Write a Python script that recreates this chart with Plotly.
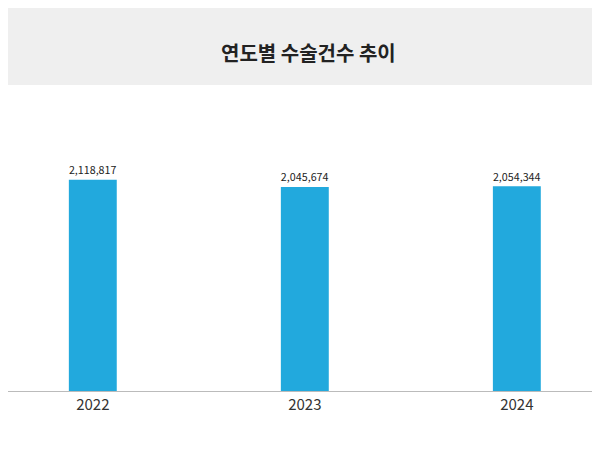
import plotly.graph_objects as go

years = ["2022", "2023", "2024"]
counts = [2118817, 2045674, 2054344]
labels = [f"{v:,}" for v in counts]

fig = go.Figure(go.Bar(
    x=[0, 1, 2], y=counts, width=0.226,
    marker=dict(color="#22A9DD", line=dict(width=0)),
    text=labels, textposition="outside", cliponaxis=False,
    textfont=dict(family="Noto Sans CJK KR", size=12, color="#222"),
))
fig.update_layout(
    width=600, height=450, margin=dict(l=0, r=0, t=85, b=67),
    paper_bgcolor="white", plot_bgcolor="white", showlegend=False,
    xaxis=dict(range=[-0.40, 2.43], tickvals=[0, 1, 2], ticktext=years,
               showgrid=False, showline=True, linecolor="#bbb", linewidth=1,
               tickfont=dict(family="Noto Sans CJK KR", size=15, color="#333"),
               ticks="", zeroline=False),
    yaxis=dict(range=[0, 2990000], visible=False),
    shapes=[dict(type="rect", xref="paper", yref="paper", x0=0, x1=1,
                 y0=1.0 + 8/298, y1=1.0 + 90/298, fillcolor="#EFEFEF",
                 line=dict(width=0), layer="below")],
    annotations=[dict(text="<b>연도별 수술건수 추이</b>", xref="paper", yref="paper",
                      x=0.5, y=1.0 + 40/298, showarrow=False, yanchor="middle",
                      font=dict(family="Noto Sans CJK KR", size=20, color="#222"))],
)
fig.write_html("out.html")
